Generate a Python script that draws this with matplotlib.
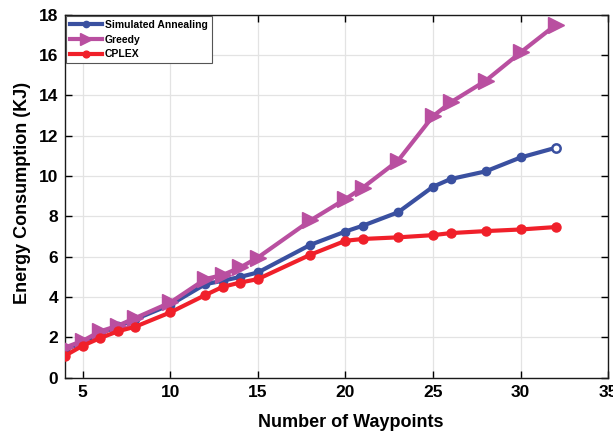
import numpy as np
import matplotlib
matplotlib.use("Agg")
import matplotlib.pyplot as plt

plt.rcParams['font.family'] = ['Liberation Sans', 'DejaVu Sans']
plt.rcParams['font.weight'] = 'bold'

# number of waypoints and energy use (KJ) for each planner
waypoints = [4, 5, 6, 7, 8, 10, 12, 13, 14, 15, 18, 20, 21, 23, 25, 26, 28, 30, 32]
sa_energy = [1.4, 1.75, 2.2, 2.55, 2.9, 3.62, 4.64, 4.81, 5.0, 5.22, 6.59, 7.25,
             7.54, 8.2, 9.47, 9.85, 10.23, 10.92, 11.4]
greedy_energy = [1.5, 1.83, 2.3, 2.58, 2.96, 3.73, 4.89, 5.1, 5.47, 5.96, 7.8, 8.86,
                 9.43, 10.76, 12.97, 13.65, 14.72, 16.13, 17.49]
cplex_energy = [1.1, 1.59, 1.97, 2.3, 2.53, 3.24, 4.1, 4.51, 4.72, 4.89, 6.1, 6.79,
                6.88, 6.96, 7.07, 7.17, 7.27, 7.35, 7.47]

x_ticks = [5, 10, 15, 20, 25, 30, 35]
y_ticks = [0, 2, 4, 6, 8, 10, 12, 14, 16, 18]

blue = '#3a50a0'
magenta = '#b94fa0'
red = '#f0202a'

fig = plt.figure(figsize=(6.13, 4.33), dpi=100)
ax = fig.add_axes([0.1065, 0.1277, 0.8855, 0.8383])

ax.plot(waypoints, sa_energy, color=blue, lw=3.0, marker='o', ms=6,
        markevery=list(range(len(waypoints) - 1)), label='Simulated Annealing', zorder=3)
# last SA point is drawn hollow
ax.plot(waypoints[-1:], sa_energy[-1:], ls='none', marker='o', ms=6,
        mfc='white', mec=blue, mew=1.8, zorder=4)
ax.plot(waypoints, greedy_energy, color=magenta, lw=3.0, marker='>', ms=11,
        label='Greedy', zorder=3)
ax.plot(waypoints, cplex_energy, color=red, lw=3.0, marker='o', ms=6.5,
        label='CPLEX', zorder=3)

ax.set_xlim(4, 35)
ax.set_ylim(0, 18)
ax.set_xticks(x_ticks)
ax.set_yticks(y_ticks)
ax.tick_params(direction='in', length=5, width=1, labelsize=12.5,
               top=True, right=True, pad=5)
for lbl in ax.get_xticklabels() + ax.get_yticklabels():
    lbl.set_fontweight('bold')
ax.grid(True, color='#e3e3e3', lw=0.9)
ax.set_axisbelow(True)
for sp in ax.spines.values():
    sp.set_linewidth(1.0)
    sp.set_color('#1a1a1a')

ax.set_xlabel('Number of Waypoints', fontsize=13, fontweight='bold', labelpad=10)
ax.set_ylabel('Energy Consumption (KJ)', fontsize=13, fontweight='bold', labelpad=6)
ax.xaxis.label.set_x(0.525)
ax.yaxis.label.set_y(0.51)

leg = ax.legend(loc='upper left', fontsize=7.5, handlelength=3.0, handletextpad=0.3,
                borderaxespad=0.1, borderpad=0.4, labelspacing=0.45, fancybox=False,
                framealpha=1, edgecolor='#555555', markerscale=0.75)
leg.get_frame().set_linewidth(0.8)
for t in leg.get_texts():
    t.set_fontweight('bold')

fig.savefig('out.png', dpi=100)
